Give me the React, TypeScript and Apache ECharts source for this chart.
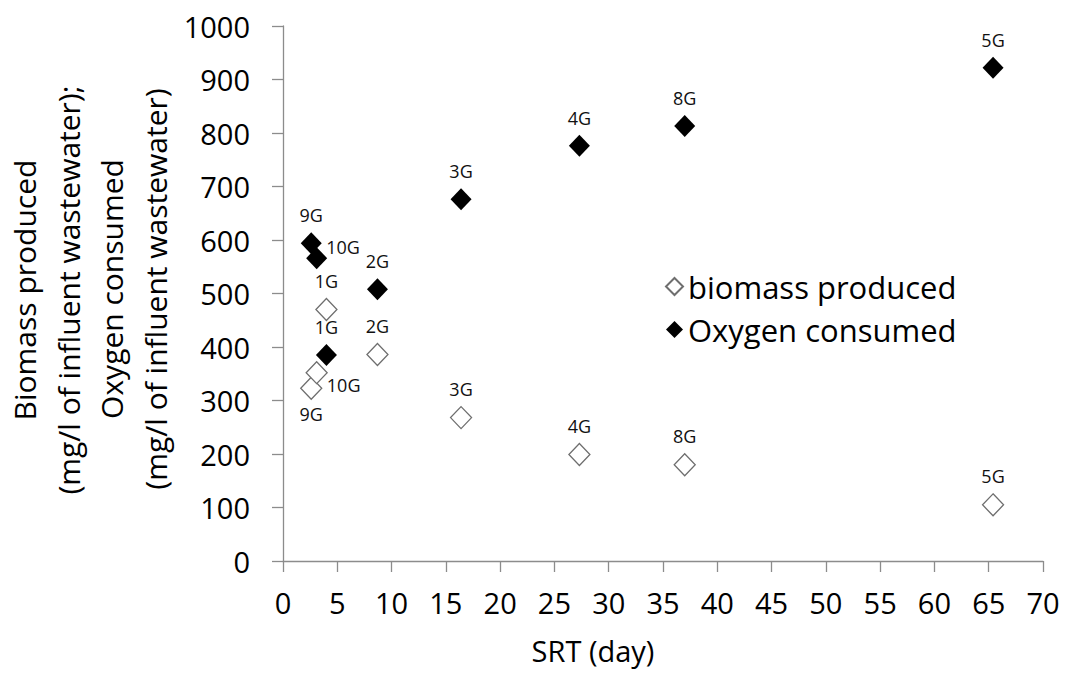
import React, { useEffect, useRef } from "react";
import * as echarts from "echarts";

// Sludge groups with their solids retention time (days)
const groups = ["1G", "2G", "3G", "4G", "5G", "8G", "9G", "10G"];
const srtDays = [4.0, 8.7, 16.4, 27.3, 65.4, 37.0, 2.6, 3.1];
// mg/l of influent wastewater
const biomassProduced = [470, 386, 268, 199, 105, 180, 323, 352];
const oxygenConsumed = [385, 508, 676, 776, 922, 813, 594, 566];

const xTicks = { min: 0, max: 70, interval: 5 };
const yTicks = { min: 0, max: 1000, interval: 100 };

const FONT = "'Open Sans', 'Liberation Sans', sans-serif";
const AXIS_GREY = "#8c8c8c";

type LabelPlace = { position: string; offset?: [number, number] };

// where each group's tag sits around its marker
const biomassLabelPlace: Record<string, LabelPlace> = {
  "9G": { position: "bottom", offset: [0, -3] },
  "10G": { position: "right", offset: [-9, 12] },
};
const oxygenLabelPlace: Record<string, LabelPlace> = {
  "10G": { position: "right", offset: [-9, -11] },
};

function buildPoints(values: number[], places: Record<string, LabelPlace>) {
  return groups.map((g, i) => {
    const place = places[g] || { position: "top" };
    return {
      name: g,
      value: [srtDays[i], values[i]],
      label: { position: place.position, offset: place.offset || [0, 0] },
    };
  });
}

export default function App() {
  const ref = useRef<HTMLDivElement>(null);

  useEffect(() => {
    if (!ref.current) return;
    const chart = echarts.init(ref.current, undefined, { renderer: "svg" });

    const labelStyle = {
      show: true,
      formatter: (p: any) => p.name,
      fontFamily: FONT,
      fontSize: 18,
      color: "#111111",
      distance: 8,
    };

    const yTitleStyle = {
      fontFamily: FONT,
      fontSize: 30,
      lineHeight: 44,
      fill: "#000",
      align: "center",
      verticalAlign: "middle",
    };

    chart.setOption({
      animation: false,
      backgroundColor: "#ffffff",
      grid: { left: 283, right: 23, top: 26, bottom: 112, containLabel: false },
      xAxis: {
        type: "value",
        min: xTicks.min,
        max: xTicks.max,
        interval: xTicks.interval,
        axisLine: { show: true, onZero: false, lineStyle: { color: AXIS_GREY, width: 1.3 } },
        axisTick: { show: true, inside: false, length: 11, lineStyle: { color: AXIS_GREY, width: 1.3 } },
        splitLine: { show: false },
        axisLabel: { fontFamily: FONT, fontSize: 29, color: "#000", margin: 27 },
      },
      yAxis: {
        type: "value",
        min: yTicks.min,
        max: yTicks.max,
        interval: yTicks.interval,
        axisLine: { show: true, lineStyle: { color: AXIS_GREY, width: 1.3 } },
        axisTick: { show: true, inside: false, length: 11, lineStyle: { color: AXIS_GREY, width: 1.3 } },
        splitLine: { show: false },
        axisLabel: {
          fontFamily: FONT,
          fontSize: 29,
          color: "#000",
          margin: 33,
          formatter: (v: number) => String(v),
        },
      },
      legend: {
        orient: "vertical",
        left: 660,
        top: 266,
        itemGap: 12,
        itemWidth: 17,
        itemHeight: 17,
        textStyle: { fontFamily: FONT, fontSize: 31, color: "#000", padding: [0, 0, 0, 0] },
        data: [
          { name: "biomass produced", icon: "diamond" },
          { name: "Oxygen consumed", icon: "diamond" },
        ],
      },
      graphic: [
        {
          type: "text",
          x: 46,
          y: 290,
          rotation: Math.PI / 2,
          style: { ...yTitleStyle, text: "Biomass produced\n(mg/l of influent wastewater);" },
        },
        {
          type: "text",
          x: 133,
          y: 289,
          rotation: Math.PI / 2,
          style: { ...yTitleStyle, text: "Oxygen consumed\n(mg/l of influent wastewater)" },
        },
        {
          type: "text",
          x: 593,
          y: 650,
          style: {
            text: "SRT (day)",
            fontFamily: FONT,
            fontSize: 29,
            fill: "#000",
            align: "center",
            verticalAlign: "middle",
          },
        },
      ],
      series: [
        {
          name: "biomass produced",
          type: "scatter",
          symbol: "diamond",
          symbolSize: [21, 22],
          itemStyle: { color: "#ffffff", borderColor: "#6e6e6e", borderWidth: 1.3, opacity: 1 },
          label: labelStyle,
          data: buildPoints(biomassProduced, biomassLabelPlace),
        },
        {
          name: "Oxygen consumed",
          type: "scatter",
          symbol: "diamond",
          symbolSize: [21, 22],
          itemStyle: { color: "#000000", borderColor: "#000000", borderWidth: 0, opacity: 1 },
          label: labelStyle,
          data: buildPoints(oxygenConsumed, oxygenLabelPlace),
        },
      ],
    });

    return () => chart.dispose();
  }, []);

  return (
    <div
      ref={ref}
      style={{ position: "fixed", left: 0, top: 0, width: 1066, height: 673, background: "#fff" }}
    />
  );
}
